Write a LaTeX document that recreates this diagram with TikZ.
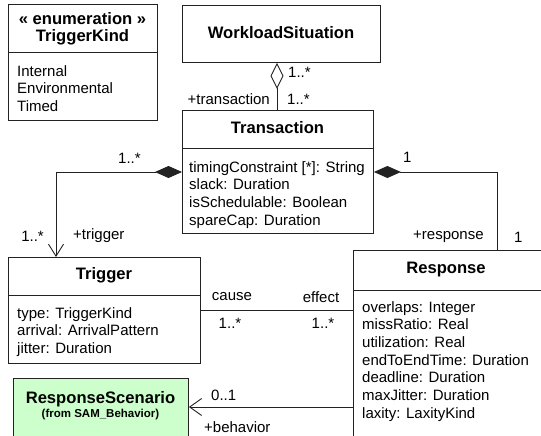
\documentclass[tikz,border=0pt]{standalone}
\usepackage{fontspec}
\setmainfont{Liberation Sans}
\usetikzlibrary{arrows.meta}
\definecolor{linec}{HTML}{222222}
\definecolor{scenfill}{HTML}{CCFFCC}
\tikzset{
  box/.style={draw=linec, line width=0.9pt, anchor=north west, inner sep=0pt},
  title/.style={font=\fontsize{16.6}{19}\selectfont\bfseries, inner sep=0pt},
  attrs/.style={font=\fontsize{15}{17.7}\selectfont, align=left, anchor=north west, inner sep=0pt},
  lbl/.style={font=\fontsize{15}{17}\selectfont, inner sep=0pt},
  conn/.style={draw=linec, line width=0.9pt},
  comp/.style={conn, {Diamond[length=27pt,width=12pt]}-{Straight Barb[length=12pt,width=15pt,line width=0.9pt]}},
  compplain/.style={conn, {Diamond[length=27pt,width=12pt]}-},
  aggr/.style={conn, {Diamond[open,length=26pt,width=13pt,fill=white]}-},
  navarrow/.style={conn, -{Straight Barb[length=12pt,width=17pt,line width=0.9pt]}}
}
\begin{document}
\begin{tikzpicture}[x=1pt,y=-1pt]
% the sheet ends at its edges; the lower boxes run past them
\clip (0,0) rectangle (541,436);

% enumeration TriggerKind
\node[box, minimum width=149pt, minimum height=116pt] (tk) at (8,4) {};
\draw[conn] (8,52) -- (157,52);
\node[title] (tkst) at (82.5,19) {« enumeration »};
\node[title] (tkname) at (82.5,37) {TriggerKind};
\node[attrs] (tkattr) at (17,65) {Internal\\Environmental\\Timed};

% WorkloadSituation
\node[box, minimum width=198pt, minimum height=57pt] (ws) at (182,5) {};
\node[title] (wsname) at (281,33) {WorkloadSituation};

% Transaction
\node[box, minimum width=191pt, minimum height=123pt] (tr) at (182,110) {};
\draw[conn] (182,148) -- (373,148);
\node[title] (trname) at (277.5,128) {Transaction};
\node[attrs] (trattr) at (189,161) {timingConstraint [*]: String\\slack: Duration\\isSchedulable: Boolean\\spareCap: Duration};

% Trigger
\node[box, minimum width=192pt, minimum height=106pt] (tg) at (8,257) {};
\draw[conn] (8,295) -- (200,295);
\node[title] (tgname) at (104,275) {Trigger};
\node[attrs] (tgattr) at (17,307) {type: TriggerKind\\arrival: ArrivalPattern\\jitter: Duration};

% Response
\node[box, minimum width=200pt, minimum height=200pt] (rs) at (353,250) {};
\draw[conn] (353,290) -- (553,290);
\node[title] (rsname) at (446,270) {Response};
\node[attrs] (rsattr) at (362,301) {overlaps: Integer\\missRatio: Real\\utilization: Real\\endToEndTime: Duration\\deadline: Duration\\maxJitter: Duration\\laxity: LaxityKind};

% ResponseScenario
\node[box, fill=scenfill, minimum width=175pt, minimum height=70pt] (sc) at (13,378) {};
\node[title] (scname) at (100.5,399) {ResponseScenario};
\node[font=\fontsize{11.5}{13}\selectfont\bfseries, inner sep=0pt] (scfrom) at (100.5,415) {(from SAM\_Behavior)};

% connector end points
\coordinate (wsB) at (ws.south -| 277,0);
\coordinate (trT) at (tr.north -| 277,0);
\coordinate (trL) at (tr.west |- 0,172);
\coordinate (trR) at (tr.east |- 0,172);
\coordinate (tgT) at (tg.north -| 56,0);
\coordinate (rsT) at (rs.north -| 497,0);
\coordinate (tgR) at (tg.east |- 0,310);
\coordinate (rsL) at (rs.west |- 0,310);
\coordinate (rsLb) at (rs.west |- 0,407);
\coordinate (scR) at (sc.east |- 0,407);

% associations
\draw[aggr] (wsB) -- (trT);
\draw[comp] (trL) -- (56,172) -- (tgT);
\draw[compplain] (trR) -- (497,172) -- (rsT);
\draw[conn] (tgR) -- (rsL);
\draw[navarrow] (rsLb) -- (scR);

% role names and multiplicities
\node[lbl, anchor=west] (m1) at (288,72) {1..*};
\node[lbl, anchor=east] (r1) at (270,99) {+transaction};
\node[lbl, anchor=west] (m2) at (287,99) {1..*};
\node[lbl, anchor=west] (m3) at (118,158) {1..*};
\node[lbl, anchor=east] (m4) at (44,236) {1..*};
\node[lbl, anchor=west] (r2) at (73,236) {+trigger};
\node[lbl, anchor=west] (m5) at (403,157) {1};
\node[lbl, anchor=west] (r3) at (413,237) {+response};
\node[lbl, anchor=west] (m6) at (514,237) {1};
\node[lbl] (r4) at (232,297) {cause};
\node[lbl] (r5) at (321,297) {effect};
\node[lbl] (m7) at (230,323) {1..*};
\node[lbl] (m8) at (323,323) {1..*};
\node[lbl, anchor=west] (m9) at (211,395) {0..1};
\node[lbl, anchor=west] (r6) at (204,427) {+behavior};
\end{tikzpicture}
\end{document}
